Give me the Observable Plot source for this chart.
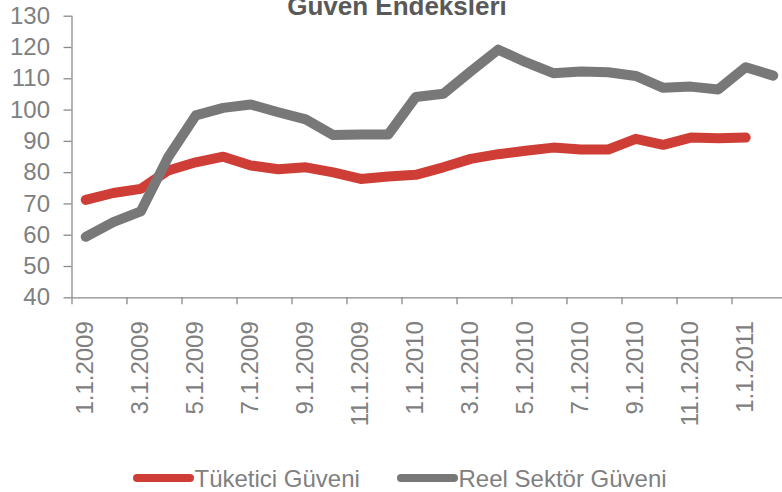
<!DOCTYPE html>
<html>
<head>
<meta charset="utf-8">
<script src="https://cdn.jsdelivr.net/npm/d3@7"></script>
<script src="https://cdn.jsdelivr.net/npm/@observablehq/plot@0.6"></script>
<style>
  html, body { margin: 0; padding: 0; background: #fff; }
  #wrap { position: relative; width: 782px; height: 492px; overflow: hidden; font-family: "Liberation Sans", Arial, sans-serif; }
  #chart { position: absolute; left: 0; top: 0; }
  .title { position: absolute; left: 0; width: 794px; top: -7px; text-align: center; font-weight: bold; font-size: 26px; line-height: 1; color: #595959; white-space: nowrap; }
  .sw { position: absolute; height: 7.7px; border-radius: 4px; }
  .lt { position: absolute; font-size: 24px; line-height: 1; color: #808080; white-space: nowrap; }
</style>
</head>
<body>
<div id="wrap">
  <div id="chart"></div>
  <div class="title">Güven Endeksleri</div>
  <div class="sw" style="left:133px; top:474px; width:61px; background:#CF3E36;"></div>
  <div class="lt" style="left:194.5px; top:467.4px;">Tüketici Güveni</div>
  <div class="sw" style="left:397px; top:474px; width:61px; background:#787878;"></div>
  <div class="lt" style="left:458.5px; top:467.4px;">Reel Sektör Güveni</div>
</div>
<script>
const months = ["1.1.2009","2.1.2009","3.1.2009","4.1.2009","5.1.2009","6.1.2009","7.1.2009","8.1.2009","9.1.2009","10.1.2009","11.1.2009","12.1.2009",
  "1.1.2010","2.1.2010","3.1.2010","4.1.2010","5.1.2010","6.1.2010","7.1.2010","8.1.2010","9.1.2010","10.1.2010","11.1.2010","12.1.2010",
  "1.1.2011","2.1.2011"];
const tuketici = [71.3, 73.5, 74.8, 80.7, 83.3, 85.1, 82.3, 81.1, 81.7, 80.1, 78.0, 78.8,
  79.3, 81.7, 84.4, 85.9, 87.0, 88.0, 87.4, 87.4, 90.8, 88.9, 91.2, 91.0, 91.2];
const reel = [59.5, 64.2, 67.6, 85.0, 98.3, 100.7, 101.8, 99.3, 97.0, 92.0, 92.2, 92.2,
  104.2, 105.2, 112.4, 119.3, 115.3, 111.8, 112.3, 112.1, 110.9, 107.1, 107.5, 106.6, 113.7, 111.0];
const yTicks = [40, 50, 60, 70, 80, 90, 100, 110, 120, 130];
const labelIdx = months.map((m, i) => i).filter(i => i % 2 === 0 && i <= 24);
const tickPos = labelIdx.map(i => i - 0.5);

const red = "#CF3E36", gray = "#787878", axisCol = "#8A8A8A", textCol = "#808080";
const tData = tuketici.map((v, i) => ({i, v}));
const rData = reel.map((v, i) => ({i, v}));

const plot = Plot.plot({
  width: 782,
  height: 440,
  marginLeft: 71.5,
  marginRight: 0,
  marginTop: 15.7,
  marginBottom: 440 - 297.3,
  style: {fontFamily: "'Liberation Sans', Arial, sans-serif", fontSize: "24px", color: textCol, background: "white"},
  x: {type: "linear", domain: [-0.5, 25.336]},
  y: {domain: [40, 130]},
  marks: [
    Plot.ruleY([40], {stroke: axisCol, strokeWidth: 1.3}),
    Plot.ruleX([-0.5], {y1: 40, y2: 130, stroke: axisCol, strokeWidth: 1.3}),
    Plot.axisY({ticks: yTicks, tickSize: 8, tickPadding: 14, stroke: axisCol, strokeWidth: 1.3, fill: textCol, label: null, fontSize: 24}),
    Plot.axisX({ticks: tickPos, tickSize: 7, tickFormat: () => "", stroke: axisCol, strokeWidth: 1.3, label: null}),
    Plot.text(labelIdx, {x: d => d, y: 40, text: d => months[d], rotate: -90, textAnchor: "end", lineAnchor: "middle", dy: 23.4, fill: textCol, fontSize: 24}),
    Plot.line(tData, {x: "i", y: "v", stroke: red, strokeWidth: 10, strokeLinecap: "round", strokeLinejoin: "round"}),
    Plot.line(rData, {x: "i", y: "v", stroke: gray, strokeWidth: 10, strokeLinecap: "round", strokeLinejoin: "round"})
  ]
});
document.getElementById("chart").appendChild(plot);
</script>
</body>
</html>
